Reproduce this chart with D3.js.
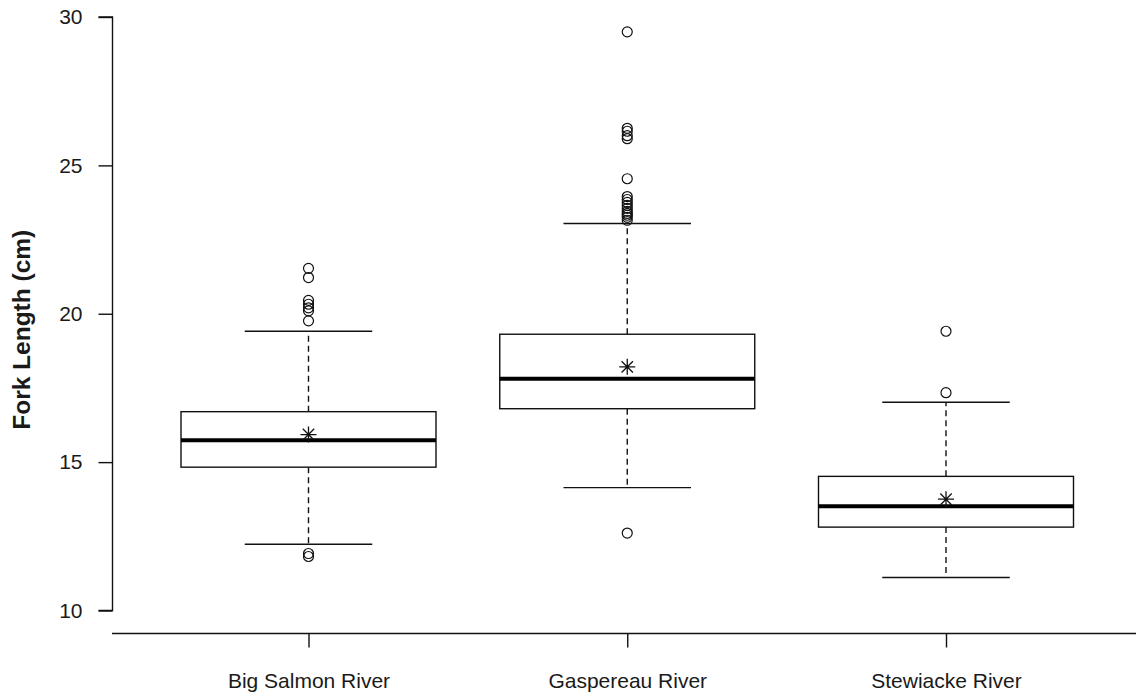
<!DOCTYPE html>
<html>
<head>
<meta charset="utf-8">
<script src="https://cdn.jsdelivr.net/npm/d3@7"></script>
<style>
  html, body { margin: 0; padding: 0; background: #fff; }
  svg { display: block; }
  text { font-family: "Liberation Sans", Arial, sans-serif; fill: #1a1a1a; }
</style>
</head>
<body>
<svg id="chart" width="1136" height="698"></svg>
<script>
// ---- data ----
const categories = ["Big Salmon River", "Gaspereau River", "Stewiacke River"];
const lowerWhisker = [12.23, 14.14, 11.11];
const q1 = [14.83, 16.80, 12.81];
const medians = [15.74, 17.81, 13.51];
const q3 = [16.70, 19.31, 14.52];
const upperWhisker = [19.41, 23.04, 17.02];
const means = [15.93, 18.21, 13.75];
const outliersBigSalmon = [21.53, 21.22, 20.45, 20.32, 20.2, 20.1, 19.76, 11.92, 11.82];
const outliersGaspereau = [29.5, 26.25, 26.15, 26.0, 25.9, 24.55, 23.95, 23.85, 23.75, 23.65, 23.55, 23.45, 23.38, 23.32, 23.25, 23.15, 12.61];
const outliersStewiacke = [19.41, 17.34];
const yTicks = [10, 15, 20, 25, 30];
const yLabel = "Fork Length (cm)";

const outliers = [outliersBigSalmon, outliersGaspereau, outliersStewiacke];

// ---- scales ----
const svg = d3.select("#chart");
const x = d3.scaleLinear().domain([1, 3]).range([308.5, 946]);
const y = d3.scaleLinear().domain([10, 30]).range([610.5, 17]);
const unit = x(2) - x(1);
const boxHalf = unit * 0.4;
const capHalf = unit * 0.2;

// ---- y axis ----
const yAxis = d3.axisLeft(y).tickValues(yTicks).tickSize(14).tickPadding(16).tickFormat(d3.format("d"));
const gy = svg.append("g").attr("transform", "translate(112.5,0)").call(yAxis);
gy.select(".domain").attr("stroke", "#111").attr("stroke-width", 1.4).attr("d", `M-14,${y(30)}H0V${y(10)}H-14`);
gy.selectAll(".tick line").attr("stroke", "#111").attr("stroke-width", 1.4);
gy.selectAll(".tick text").attr("font-size", 21).attr("fill", "#222")
  .attr("font-family", "'Liberation Sans', Arial, sans-serif");

// ---- x axis ----
const xAxis = d3.axisBottom(x).tickValues([1, 2, 3]).tickSize(14).tickPadding(26)
  .tickFormat((d) => categories[d - 1]);
const gx = svg.append("g").attr("transform", "translate(0,633.5)").call(xAxis);
gx.select(".domain").attr("stroke", "#111").attr("stroke-width", 1.4).attr("d", "M112,0H1136");
gx.selectAll(".tick line").attr("stroke", "#111").attr("stroke-width", 1.4);
gx.selectAll(".tick text").attr("font-size", 21).attr("fill", "#222")
  .attr("font-family", "'Liberation Sans', Arial, sans-serif");

// ---- y label ----
svg.append("text")
  .attr("transform", `translate(30,${(y(10) + y(30)) / 2 + 16}) rotate(-90)`)
  .attr("text-anchor", "middle")
  .attr("font-size", 24.5)
  .attr("font-weight", "bold")
  .attr("fill", "#111")
  .text(yLabel);

// ---- boxes ----
const idx = categories.map((c, i) => i);
const g = svg.append("g");
const groups = g.selectAll("g.box").data(idx).join("g").attr("class", "box");

// whiskers (dashed)
groups.append("line")
  .attr("x1", (i) => x(i + 1)).attr("x2", (i) => x(i + 1))
  .attr("y1", (i) => y(q3[i])).attr("y2", (i) => y(upperWhisker[i]))
  .attr("stroke", "#111").attr("stroke-width", 1.4).attr("stroke-dasharray", "6,4");
groups.append("line")
  .attr("x1", (i) => x(i + 1)).attr("x2", (i) => x(i + 1))
  .attr("y1", (i) => y(q1[i])).attr("y2", (i) => y(lowerWhisker[i]))
  .attr("stroke", "#111").attr("stroke-width", 1.4).attr("stroke-dasharray", "6,4");
// caps
groups.append("line")
  .attr("x1", (i) => x(i + 1) - capHalf).attr("x2", (i) => x(i + 1) + capHalf)
  .attr("y1", (i) => y(upperWhisker[i])).attr("y2", (i) => y(upperWhisker[i]))
  .attr("stroke", "#111").attr("stroke-width", 1.4);
groups.append("line")
  .attr("x1", (i) => x(i + 1) - capHalf).attr("x2", (i) => x(i + 1) + capHalf)
  .attr("y1", (i) => y(lowerWhisker[i])).attr("y2", (i) => y(lowerWhisker[i]))
  .attr("stroke", "#111").attr("stroke-width", 1.4);
// box
groups.append("rect")
  .attr("x", (i) => x(i + 1) - boxHalf).attr("width", boxHalf * 2)
  .attr("y", (i) => y(q3[i])).attr("height", (i) => y(q1[i]) - y(q3[i]))
  .attr("fill", "#fff").attr("stroke", "#111").attr("stroke-width", 1.4);
// median
groups.append("line")
  .attr("x1", (i) => x(i + 1) - boxHalf).attr("x2", (i) => x(i + 1) + boxHalf)
  .attr("y1", (i) => y(medians[i])).attr("y2", (i) => y(medians[i]))
  .attr("stroke", "#000").attr("stroke-width", 4);
// outliers
groups.each(function (i) {
  d3.select(this).selectAll("circle").data(outliers[i]).join("circle")
    .attr("cx", x(i + 1)).attr("cy", (v) => y(v)).attr("r", 5)
    .attr("fill", "none").attr("stroke", "#111").attr("stroke-width", 1.2);
});
// mean asterisk (pch 8)
const s = 8, d = 5.7;
groups.append("path")
  .attr("d", (i) => {
    const cx = x(i + 1), cy = y(means[i]);
    return `M${cx - s},${cy}H${cx + s}M${cx},${cy - s}V${cy + s}` +
      `M${cx - d},${cy - d}L${cx + d},${cy + d}M${cx - d},${cy + d}L${cx + d},${cy - d}`;
  })
  .attr("stroke", "#111").attr("stroke-width", 1.3).attr("fill", "none");
</script>
</body>
</html>
